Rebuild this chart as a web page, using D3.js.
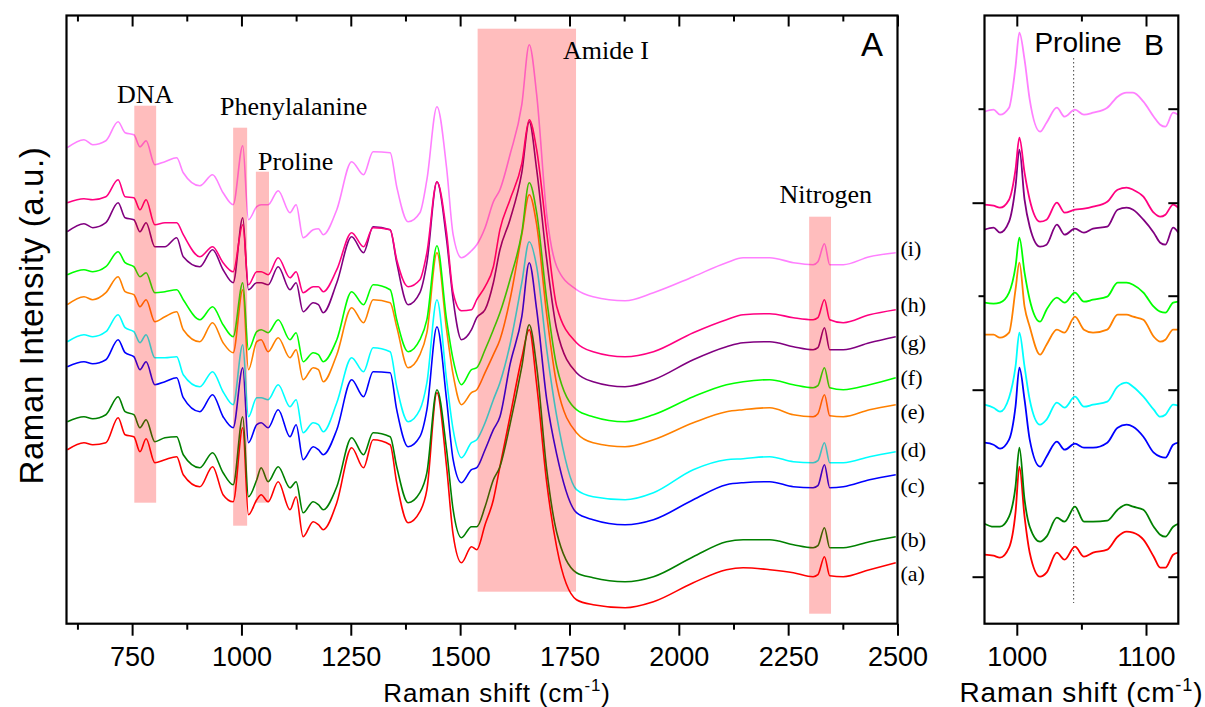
<!DOCTYPE html>
<html>
<head>
<meta charset="utf-8">
<script src="https://cdn.jsdelivr.net/npm/d3@7"></script>
<style>
  body { margin: 0; background: #fff; }
  svg { display: block; }
</style>
</head>
<body>
<svg id="chart" width="1205" height="707"></svg>
<script>
// Raman shift (cm-1) sampling of the full spectra (panel A)
const shiftA = [602, 640, 660, 690, 718, 734, 754, 768, 782, 802, 825, 852, 867, 905, 934, 958, 981, 1003, 1016, 1035, 1045, 1061, 1084, 1111, 1125, 1141, 1164, 1176, 1187, 1218, 1252, 1279, 1301, 1340, 1355, 1381, 1408, 1424, 1447, 1469, 1484, 1503, 1526, 1538, 1557, 1576, 1591, 1614, 1641, 1658, 1675, 1698, 1721, 1766, 1804, 1877, 1942, 2033, 2109, 2147, 2208, 2262, 2307, 2318, 2333, 2345, 2376, 2436, 2496];

// Stacked intensities (a.u.) of spectra (a)..(i), panel A
const specA_a = [174,181,179,181,206,189,187,172,185,161,164,167,149,137,157,129,122,196,109,124,129,122,142,114,127,87,102,99,94,121,176,156,184,179,141,101,112,134,231,157,89,61,77,74,99,124,157,207,266,294,239,141,76,24,19,16,22,41,54,56,54,51,47,49,67,48,47,54,61];
const specA_b = [202,207,205,209,227,212,209,196,204,182,186,187,169,156,171,151,139,207,127,144,156,142,157,136,142,111,122,119,114,137,186,169,191,187,157,121,131,151,234,174,114,86,97,97,117,144,157,199,257,299,257,154,91,51,46,42,47,67,82,84,84,79,76,78,96,76,76,82,87];
const specA_c = [257,262,260,264,284,271,267,254,262,239,242,246,226,212,229,207,196,256,181,199,201,196,214,187,199,164,177,174,169,194,244,227,252,251,214,177,187,214,297,224,164,141,154,156,174,194,207,259,307,361,314,224,169,111,104,99,104,124,139,141,142,137,136,138,159,136,137,144,149];
const specA_d = [282,289,287,292,309,296,292,281,289,266,266,267,249,237,252,232,219,279,207,226,226,224,239,217,224,191,201,199,192,221,266,252,276,272,237,202,214,241,324,244,194,166,181,184,201,224,241,279,341,382,357,274,207,134,127,124,131,154,164,165,167,162,161,163,181,161,161,167,172];
const specA_e = [319,327,324,331,347,332,329,317,324,302,307,312,294,282,301,281,271,334,254,282,284,272,286,266,274,244,256,254,242,269,316,301,324,321,297,256,269,291,371,294,249,219,231,234,251,269,284,324,389,429,399,309,239,191,181,177,184,201,212,214,216,209,207,210,229,208,207,214,219];
const specA_f = [349,354,352,357,372,361,357,347,351,331,332,334,324,304,317,299,287,341,274,292,294,291,304,284,291,262,271,269,262,284,332,319,339,334,304,272,284,304,378,304,264,239,254,256,274,294,311,344,391,441,411,324,257,214,207,202,209,227,239,242,244,239,236,238,256,236,234,239,246];
const specA_g = [392,400,396,401,421,406,404,392,401,377,377,386,367,357,374,354,341,406,334,341,341,339,357,334,341,312,321,319,311,341,387,371,397,394,361,319,331,361,442,384,324,284,294,306,314,341,374,404,451,502,454,364,294,251,242,237,244,264,277,281,282,277,274,276,296,274,274,281,287];
const specA_h = [421,425,424,427,444,427,426,414,424,399,401,401,389,367,377,361,352,399,339,352,352,349,366,346,352,331,337,337,332,354,391,377,396,394,364,337,344,371,442,391,331,313,314,324,337,357,394,424,460,504,474,391,317,281,272,267,272,291,304,309,310,306,304,306,324,304,301,309,314];
const specA_i = [476,484,479,483,502,491,489,477,483,459,462,466,451,438,449,431,419,478,404,417,419,419,433,411,419,386,394,395,389,414,462,449,472,471,437,402,411,444,517,456,389,366,373,379,396,422,434,469,519,579,529,409,357,334,327,323,331,347,361,366,366,361,359,362,380,359,359,367,371];

// Raman shift sampling of the enlarged 975-1125 cm-1 window (panel B)
const shiftB = [975, 982, 987, 994, 999, 1002, 1006, 1010, 1018, 1023, 1031, 1037, 1045, 1052, 1059, 1070, 1078, 1085, 1090, 1098, 1106, 1111, 1115, 1121, 1125];
const specB_a = [69,68,66,76,111,157,107,71,47,51,71,64,77,67,71,74,87,92,91,84,67,56,56,69,71];
const specB_b = [100,97,97,107,137,176,124,97,82,87,106,102,117,102,102,103,114,119,117,114,97,89,87,97,100];
const specB_c = [181,179,175,184,217,256,224,184,157,167,182,174,180,176,176,181,196,199,197,187,171,167,166,179,181];
const specB_d = [219,216,212,226,257,291,257,224,199,204,221,216,227,217,219,222,237,241,237,227,214,207,209,219,218];
const specB_e = [289,289,286,291,334,361,317,297,269,279,294,291,307,294,291,294,309,309,307,304,287,282,284,294,294];
const specB_f = [321,320,321,331,357,386,351,324,302,314,326,321,331,322,324,327,341,341,339,331,317,312,311,321,322];
const specB_g = [394,396,391,402,437,474,424,397,377,379,399,389,395,391,395,397,414,416,414,404,391,381,379,396,391];
const specB_h = [419,418,416,424,454,486,451,424,402,404,421,411,414,415,417,422,434,436,434,427,411,407,409,419,416];
const specB_i = [512,514,509,516,557,591,564,524,492,501,516,507,514,509,511,516,527,531,531,522,507,499,497,511,509];

const sampleLabels = ["(a)", "(b)", "(c)", "(d)", "(e)", "(f)", "(g)", "(h)", "(i)"];
const sampleColors = ["#ff0000", "#008000", "#0000ff", "#00ffff", "#ff8000", "#00ff00", "#800080", "#ff0080", "#ff80ff"];

// Highlighted band assignments (cm-1 extents and intensity extents)
const bandNames = ["DNA", "Phenylalanine", "Proline", "Amide I", "Nitrogen"];
const bandFrom = [755, 981, 1033, 1540, 2298];
const bandTo = [805, 1013, 1063, 1765, 2348];
const bandLow = [121, 98, 121, 32, 10];
const bandHigh = [518, 496, 452, 595, 407];

// Proline marker in the enlarged window
const prolineShift = 1044;

// Axis ticks
const majorTicksA = [750, 1000, 1250, 1500, 1750, 2000, 2250, 2500];
const minorTicksA = [625, 875, 1125, 1375, 1625, 1875, 2125, 2375];
const majorTicksB = [1000, 1100];
const minorTicksB = [1050];
const majorLevelsB = [47, 234, 421];
const minorLevelsB = [141, 328, 515];

const spectraA = [specA_a, specA_b, specA_c, specA_d, specA_e, specA_f, specA_g, specA_h, specA_i];
const spectraB = [specB_a, specB_b, specB_c, specB_d, specB_e, specB_f, specB_g, specB_h, specB_i];

// ---------------------------------------------------------------- layout
const svg = d3.select("#chart");
const plotTop = 15.5, plotBottom = 623.7;
const panelA = { left: 66.5, right: 897.5 };
const panelB = { left: 984.5, right: 1178.3 };

const xA = d3.scaleLinear().domain([600, 2500]).range([panelA.left, panelA.right]);
const xB = d3.scaleLinear().domain([975, 1125]).range([panelB.left, panelB.right]);
const y = d3.scaleLinear().domain([0, 608.2]).range([plotBottom, plotTop]);

const sans = "'Liberation Sans', Arial, sans-serif";
const serif = "'Liberation Serif', 'Times New Roman', serif";

const defs = svg.append("defs");
defs.append("clipPath").attr("id", "clipA").append("rect")
  .attr("x", panelA.left).attr("y", plotTop).attr("width", panelA.right - panelA.left).attr("height", plotBottom - plotTop);
defs.append("clipPath").attr("id", "clipB").append("rect")
  .attr("x", panelB.left).attr("y", plotTop).attr("width", panelB.right - panelB.left).attr("height", plotBottom - plotTop);

// ---------------------------------------------------------------- panel A spectra
const lineA = d3.line().curve(d3.curveMonotoneX).x((d, i) => xA(shiftA[i])).y(d => y(d));
svg.append("g").attr("clip-path", "url(#clipA)")
  .selectAll("path").data(spectraA).join("path")
  .attr("d", lineA)
  .attr("fill", "none")
  .attr("stroke", (d, i) => sampleColors[i])
  .attr("stroke-width", 1.6)
  .attr("stroke-linejoin", "round");

// translucent band highlights sit over the traces
svg.append("g").selectAll("rect").data(bandNames).join("rect")
  .attr("x", (d, i) => xA(bandFrom[i]))
  .attr("width", (d, i) => xA(bandTo[i]) - xA(bandFrom[i]))
  .attr("y", (d, i) => y(bandHigh[i]))
  .attr("height", (d, i) => y(bandLow[i]) - y(bandHigh[i]))
  .attr("fill", "#ff0000")
  .attr("fill-opacity", 0.26);

// band captions
const captionPos = [
  { x: xA(780), y: 103, anchor: "middle" },
  { x: xA(951), y: 115, anchor: "start" },
  { x: xA(1038), y: 170, anchor: "start" },
  { x: xA(1735), y: 59, anchor: "start" },
  { x: xA(2336), y: 203, anchor: "middle" }
];
svg.append("g").selectAll("text").data(bandNames).join("text")
  .attr("x", (d, i) => captionPos[i].x)
  .attr("y", (d, i) => captionPos[i].y)
  .attr("text-anchor", (d, i) => captionPos[i].anchor)
  .attr("font-family", serif)
  .attr("font-size", 26)
  .text(d => d);

// sample labels beside the right end of each trace
const labelNudge = [11, 3, 11, -2, 7, 0, 6, -5, -4];
svg.append("g").selectAll("text").data(sampleLabels).join("text")
  .attr("x", panelA.right + 3)
  .attr("y", (d, i) => y(spectraA[i][spectraA[i].length - 1]) + labelNudge[i] + 7)
  .attr("font-family", serif)
  .attr("font-size", 22)
  .text(d => d);

// ---------------------------------------------------------------- panel B spectra
const lineB = d3.line().curve(d3.curveMonotoneX).x((d, i) => xB(shiftB[i])).y(d => y(d));
svg.append("line")
  .attr("x1", xB(prolineShift)).attr("x2", xB(prolineShift))
  .attr("y1", 58).attr("y2", 603)
  .attr("stroke", "#444").attr("stroke-width", 1)
  .attr("stroke-dasharray", "1.5,2.5");
svg.append("g").attr("clip-path", "url(#clipB)")
  .selectAll("path").data(spectraB).join("path")
  .attr("d", lineB)
  .attr("fill", "none")
  .attr("stroke", (d, i) => sampleColors[i])
  .attr("stroke-width", 1.8)
  .attr("stroke-linejoin", "round");

// ---------------------------------------------------------------- frames and ticks
function tickAxis(gen, g) {
  g.call(gen);
  g.select(".domain").remove();
  g.selectAll(".tick line").attr("stroke", "#000").attr("stroke-width", 2);
}

function bottomAxis(x, major, minor) {
  const gMin = svg.append("g").attr("transform", `translate(0,${plotBottom})`);
  tickAxis(d3.axisBottom(x).tickValues(minor).tickSize(6).tickFormat(""), gMin);
  const gMaj = svg.append("g").attr("transform", `translate(0,${plotBottom})`);
  tickAxis(d3.axisBottom(x).tickValues(major).tickSize(12).tickFormat(d3.format("d")), gMaj);
  gMaj.selectAll(".tick text")
    .attr("y", 42).attr("dy", 0)
    .attr("font-family", sans).attr("font-size", 27).attr("fill", "#000");
  const tMin = svg.append("g").attr("transform", `translate(0,${plotTop})`);
  tickAxis(d3.axisTop(x).tickValues(minor).tickSize(-6).tickFormat(""), tMin);
  const tMaj = svg.append("g").attr("transform", `translate(0,${plotTop})`);
  tickAxis(d3.axisTop(x).tickValues(major).tickSize(-11).tickFormat(""), tMaj);
}
bottomAxis(xA, majorTicksA, minorTicksA);
bottomAxis(xB, majorTicksB, minorTicksB);

// left / right ticks of panel B
const lMaj = svg.append("g").attr("transform", `translate(${panelB.left},0)`);
tickAxis(d3.axisLeft(y).tickValues(majorLevelsB).tickSize(12).tickFormat(""), lMaj);
const lMin = svg.append("g").attr("transform", `translate(${panelB.left},0)`);
tickAxis(d3.axisLeft(y).tickValues(minorLevelsB).tickSize(6).tickFormat(""), lMin);
const rAll = svg.append("g").attr("transform", `translate(${panelB.right},0)`);
tickAxis(d3.axisRight(y).tickValues(majorLevelsB.concat(minorLevelsB)).tickSize(-10).tickFormat(""), rAll);

// frames
[panelA, panelB].forEach(p => {
  svg.append("rect")
    .attr("x", p.left).attr("y", plotTop)
    .attr("width", p.right - p.left).attr("height", plotBottom - plotTop)
    .attr("fill", "none").attr("stroke", "#000").attr("stroke-width", 2.2);
});

// ---------------------------------------------------------------- titles
function shiftTitle(cx, size) {
  const t = svg.append("text")
    .attr("x", cx).attr("y", 702)
    .attr("text-anchor", "middle")
    .attr("font-family", sans).attr("font-size", size)
    .attr("letter-spacing", 0.8);
  t.append("tspan").text("Raman shift (cm");
  t.append("tspan").attr("dy", -11).attr("font-size", size * 0.65).text("-1");
  t.append("tspan").attr("dy", 11).text(")");
}
shiftTitle((panelA.left + panelA.right) / 2 + 15, 26);
shiftTitle((panelB.left + panelB.right) / 2, 28);

svg.append("text")
  .attr("transform", `translate(43,${(plotTop + plotBottom) / 2 - 4}) rotate(-90)`)
  .attr("text-anchor", "middle")
  .attr("font-family", sans).attr("font-size", 33)
  .attr("letter-spacing", 0.6)
  .text("Raman Intensity (a.u.)");

svg.append("text").attr("x", 872).attr("y", 56).attr("text-anchor", "middle")
  .attr("font-family", sans).attr("font-size", 33).text("A");
svg.append("text").attr("x", 1154).attr("y", 55).attr("text-anchor", "middle")
  .attr("font-family", sans).attr("font-size", 30).text("B");
svg.append("text").attr("x", 1078).attr("y", 52).attr("text-anchor", "middle")
  .attr("font-family", sans).attr("font-size", 28).text("Proline");
</script>
</body>
</html>
